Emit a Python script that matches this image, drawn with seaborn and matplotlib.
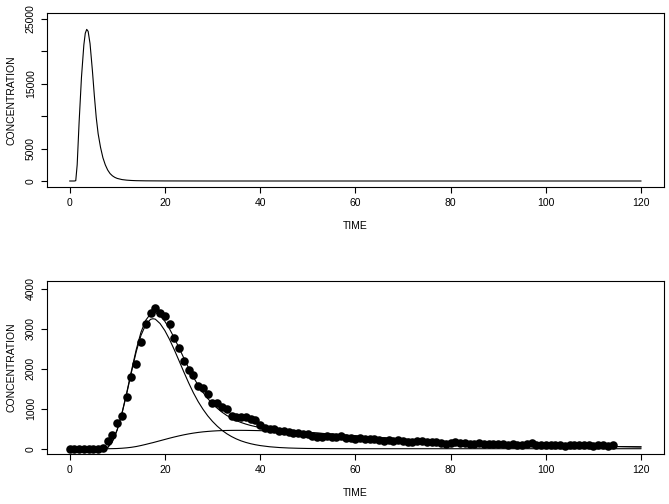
import numpy as np
import pandas as pd
import matplotlib
matplotlib.use("Agg")
import matplotlib.pyplot as plt
import seaborn as sns

# ---- top panel: input function (single gamma-shaped bolus) ----
top_time = [0, 1.0, 1.3, 1.6, 2.0, 2.5, 3.0, 3.3, 3.6, 3.9, 4.3, 4.8, 5.2, 5.6,
            6.0, 6.5, 7.0, 7.5, 8.0, 8.5, 9.0, 9.5, 10, 11, 12, 13, 14, 16, 20, 30, 120]
top_conc = [0, 0, 50, 2500, 9000, 16000, 21000, 22800, 23400, 23100, 21200, 17000,
            13200, 9800, 7300, 5200, 3600, 2500, 1700, 1150, 800, 560, 400, 220,
            130, 80, 50, 25, 10, 0, 0]

# ---- bottom panel: measured samples (one per time unit) ----
sample_time = list(range(0, 115))
sample_conc = [0, 0, 0, 0, 0, 0, 0, 30, 200, 335,
               650, 820, 1290, 1800, 2120, 2670, 3115, 3390, 3530, 3405,
               3330, 3115, 2765, 2530, 2195, 1960, 1845, 1570, 1530, 1360,
               1150, 1135, 1050, 995, 830, 800, 800, 785, 745, 720,
               595, 525, 495, 485, 450, 440, 410, 400, 385, 375,
               370, 325, 300, 285, 320, 300, 290, 310, 280, 270,
               255, 265, 240, 235, 250, 220, 205, 210, 200, 215,
               190, 180, 175, 205, 185, 170, 175, 180, 150, 115,
               150, 160, 145, 150, 130, 125, 140, 120, 115, 130,
               120, 110, 105, 115, 100, 105, 110, 140, 105, 95,
               90, 100, 85, 95, 80, 90, 100, 95, 85, 90,
               80, 85, 90, 80, 90]

# ---- bottom panel: fitted curves ----
fit_time = [0, 2, 4, 6, 7, 8, 9, 10, 11, 12, 13, 14, 15, 16, 17, 17.5, 18, 19, 20,
            21, 22, 23, 24, 25, 26, 27, 28, 29, 30, 31, 32, 33, 34, 35, 36, 37, 38,
            39, 40, 42, 44, 46, 48, 50, 55, 60, 65, 70, 75, 80, 85, 90, 95, 100,
            105, 110, 115, 120]
first_pass = [0, 0, 0, 0, 0, 30, 180, 470, 880, 1380, 1920, 2430, 2840, 3110, 3240,
              3255, 3245, 3135, 2960, 2735, 2475, 2200, 1920, 1650, 1400, 1180, 990,
              825, 685, 565, 462, 376, 305, 246, 197, 158, 126, 100, 79, 49, 30, 18,
              11, 6, 2, 0, 0, 0, 0, 0, 0, 0, 0, 0, 0, 0, 0, 0]
recirculation = [0, 0, 0, 0, 0, 0, 2, 5, 12, 22, 36, 55, 80, 108, 138, 152, 168, 200,
                 232, 264, 294, 322, 348, 371, 391, 408, 422, 433, 442, 449, 454, 457,
                 459, 460, 460, 459, 457, 455, 452, 446, 438, 428, 417, 405, 365, 320,
                 278, 240, 205, 175, 148, 125, 106, 90, 76, 64, 54, 45]
total_fit = [0, 0, 0, 0, 0, 30, 182, 475, 892, 1402, 1956, 2485, 2920, 3218, 3378,
             3407, 3413, 3335, 3192, 2999, 2769, 2522, 2268, 2021, 1791, 1588, 1412,
             1258, 1127, 1014, 916, 833, 764, 706, 657, 617, 583, 555, 531, 495, 468,
             446, 428, 411, 367, 320, 278, 240, 205, 175, 148, 125, 106, 90, 76, 64,
             54, 45]

sns.set_style("ticks")
plt.rcParams['font.family'] = ['Liberation Sans', 'DejaVu Sans']
plt.rcParams['axes.edgecolor'] = 'black'
plt.rcParams['axes.linewidth'] = 0.8
plt.rcParams['text.color'] = 'black'
plt.rcParams['axes.labelcolor'] = 'black'
plt.rcParams['xtick.color'] = 'black'
plt.rcParams['ytick.color'] = 'black'

fig = plt.figure(figsize=(6.69, 5.04), dpi=100)
ax1 = fig.add_axes([0.0698, 0.6284, 0.9227, 0.3452])
ax2 = fig.add_axes([0.0698, 0.0986, 0.9227, 0.3444])

# top: bolus curve
sns.lineplot(x=top_time, y=top_conc, ax=ax1, color='black', linewidth=0.8,
             sort=False, estimator=None)
ax1.set_xlim(-4.8, 124.8)
ax1.set_ylim(-970, 25880)
ax1.set_yticks([0, 5000, 10000, 15000, 20000, 25000])
ax1.set_yticklabels(['0', '5000', '', '15000', '', '25000'])

# bottom: samples and fitted curves
sns.scatterplot(x=sample_time, y=sample_conc, ax=ax2, color='black', s=38,
                linewidth=0, zorder=3)
for series in (total_fit, first_pass, recirculation):
    sns.lineplot(x=fit_time, y=series, ax=ax2, color='black', linewidth=0.8,
                 sort=False, estimator=None)
ax2.set_xlim(-4.8, 124.8)
ax2.set_ylim(-140, 4207)
ax2.set_yticks([0, 1000, 2000, 3000, 4000])

for ax in (ax1, ax2):
    ax.set_xticks([0, 20, 40, 60, 80, 100, 120])
    ax.set_xlabel("TIME", fontsize=7.5, labelpad=9)
    ax.set_ylabel("CONCENTRATION", fontsize=7.5, labelpad=7)
    ax.tick_params(axis='both', labelsize=7.5, length=4.3, width=0.8,
                   direction='out', colors='black', pad=3.5)
    ax.tick_params(axis='y', labelrotation=90)
    for lab in ax.get_yticklabels():
        lab.set_va('center')
    for sp in ax.spines.values():
        sp.set_visible(True)
        sp.set_color('black')
        sp.set_linewidth(0.8)

fig.savefig("out.png", dpi=100, facecolor='white')
